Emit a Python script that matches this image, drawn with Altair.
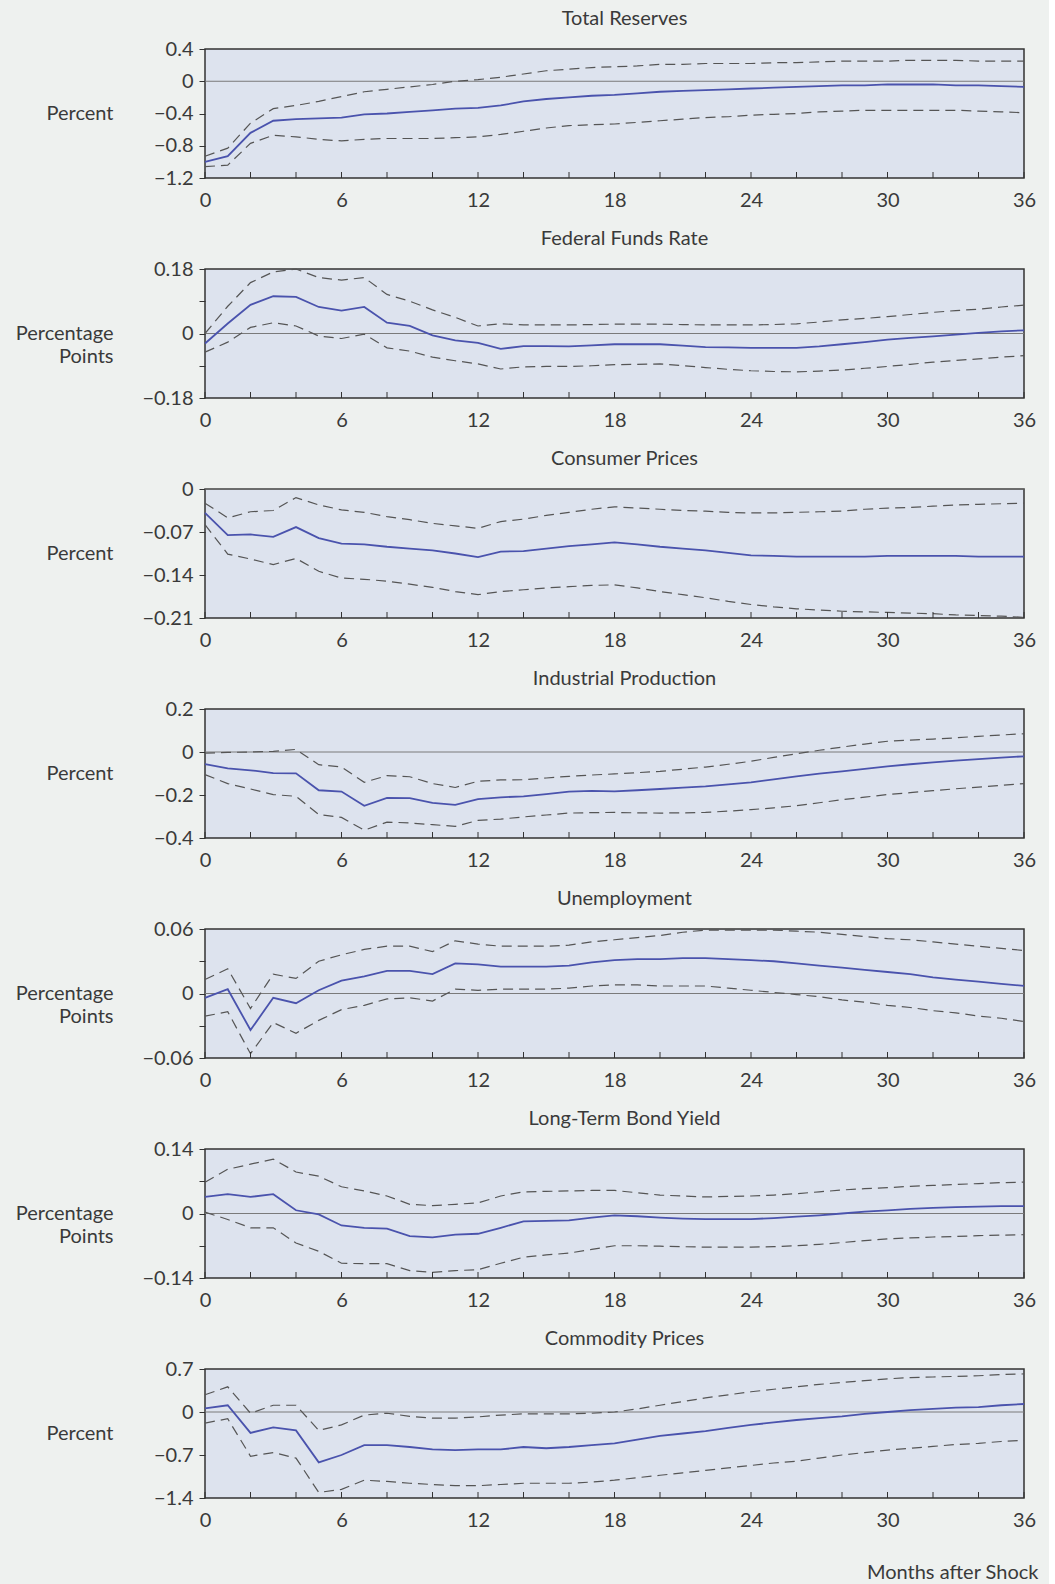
import json
import altair as alt
import pandas as pd

months = list(range(37))
tick_months = list(range(0, 37, 2))
x_labels = [0, 6, 12, 18, 24, 30, 36]

# ---------------- data ----------------
tr_mid = [-1.00, -0.93, -0.64, -0.49, -0.47, -0.46, -0.45, -0.41, -0.40, -0.38, -0.36, -0.34, -0.33,
          -0.30, -0.25, -0.22, -0.20, -0.18, -0.17, -0.15, -0.13, -0.12, -0.11, -0.10, -0.09, -0.08,
          -0.07, -0.06, -0.05, -0.05, -0.04, -0.04, -0.04, -0.05, -0.05, -0.06, -0.07]
tr_up = [-0.93, -0.83, -0.52, -0.34, -0.30, -0.25, -0.19, -0.13, -0.10, -0.07, -0.04, 0.00, 0.02,
         0.05, 0.09, 0.13, 0.15, 0.17, 0.18, 0.19, 0.21, 0.21, 0.22, 0.22, 0.22, 0.23, 0.23, 0.24,
         0.25, 0.25, 0.25, 0.26, 0.26, 0.26, 0.25, 0.25, 0.25]
tr_lo = [-1.06, -1.04, -0.77, -0.67, -0.69, -0.72, -0.74, -0.72, -0.71, -0.71, -0.71, -0.70, -0.69,
         -0.66, -0.62, -0.58, -0.55, -0.54, -0.53, -0.51, -0.49, -0.47, -0.45, -0.44, -0.42, -0.41,
         -0.40, -0.38, -0.37, -0.36, -0.36, -0.36, -0.36, -0.36, -0.37, -0.38, -0.39]

ff_mid = [-0.028, 0.028, 0.080, 0.104, 0.102, 0.074, 0.064, 0.074, 0.030, 0.021, -0.005, -0.019,
          -0.026, -0.043, -0.035, -0.035, -0.036, -0.033, -0.030, -0.030, -0.030, -0.034, -0.038,
          -0.039, -0.040, -0.040, -0.040, -0.036, -0.030, -0.024, -0.017, -0.012, -0.008, -0.003,
          0.002, 0.006, 0.009]
ff_up = [0.000, 0.076, 0.142, 0.172, 0.180, 0.156, 0.149, 0.156, 0.109, 0.090, 0.066, 0.045, 0.021,
         0.027, 0.024, 0.024, 0.024, 0.025, 0.026, 0.026, 0.026, 0.025, 0.024, 0.024, 0.024, 0.025,
         0.027, 0.032, 0.038, 0.042, 0.047, 0.053, 0.059, 0.064, 0.068, 0.074, 0.079]
ff_lo = [-0.052, -0.024, 0.017, 0.030, 0.021, -0.007, -0.014, -0.002, -0.040, -0.049, -0.066,
         -0.076, -0.085, -0.099, -0.093, -0.092, -0.092, -0.090, -0.087, -0.086, -0.085, -0.090,
         -0.095, -0.100, -0.104, -0.106, -0.107, -0.105, -0.102, -0.097, -0.092, -0.086, -0.080,
         -0.075, -0.071, -0.066, -0.062]

cp_mid = [-0.039, -0.075, -0.074, -0.078, -0.062, -0.080, -0.089, -0.090, -0.094, -0.097, -0.100,
          -0.105, -0.111, -0.102, -0.101, -0.097, -0.093, -0.090, -0.087, -0.090, -0.094, -0.097,
          -0.100, -0.104, -0.108, -0.109, -0.110, -0.110, -0.110, -0.110, -0.109, -0.109, -0.109,
          -0.109, -0.110, -0.110, -0.110]
cp_up = [-0.023, -0.047, -0.037, -0.035, -0.014, -0.026, -0.034, -0.038, -0.045, -0.050, -0.056,
         -0.060, -0.064, -0.053, -0.049, -0.043, -0.038, -0.033, -0.029, -0.031, -0.033, -0.035,
         -0.036, -0.038, -0.039, -0.039, -0.038, -0.037, -0.036, -0.033, -0.031, -0.030, -0.028,
         -0.026, -0.025, -0.024, -0.023]
cp_lo = [-0.058, -0.106, -0.114, -0.123, -0.113, -0.134, -0.145, -0.147, -0.150, -0.155, -0.160,
         -0.167, -0.172, -0.167, -0.164, -0.161, -0.159, -0.157, -0.156, -0.161, -0.167, -0.172,
         -0.177, -0.183, -0.188, -0.192, -0.195, -0.197, -0.199, -0.200, -0.201, -0.202, -0.203,
         -0.205, -0.206, -0.207, -0.209]

ip_mid = [-0.056, -0.076, -0.085, -0.098, -0.099, -0.178, -0.184, -0.250, -0.214, -0.215, -0.237,
          -0.246, -0.219, -0.211, -0.206, -0.196, -0.184, -0.181, -0.183, -0.178, -0.172, -0.166,
          -0.160, -0.151, -0.141, -0.127, -0.113, -0.101, -0.090, -0.078, -0.067, -0.057, -0.048,
          -0.040, -0.033, -0.026, -0.020]
ip_up = [-0.005, -0.002, 0.000, 0.003, 0.012, -0.059, -0.070, -0.141, -0.110, -0.115, -0.147,
         -0.165, -0.136, -0.130, -0.129, -0.121, -0.113, -0.107, -0.102, -0.096, -0.090, -0.080,
         -0.070, -0.057, -0.043, -0.025, -0.008, 0.008, 0.023, 0.037, 0.050, 0.055, 0.060, 0.066,
         0.073, 0.079, 0.085]
ip_lo = [-0.105, -0.147, -0.172, -0.198, -0.206, -0.291, -0.304, -0.364, -0.326, -0.330, -0.338,
         -0.346, -0.318, -0.312, -0.302, -0.293, -0.284, -0.282, -0.281, -0.283, -0.284, -0.283,
         -0.281, -0.275, -0.268, -0.260, -0.250, -0.236, -0.222, -0.210, -0.198, -0.189, -0.180,
         -0.171, -0.163, -0.155, -0.147]

un_mid = [-0.004, 0.004, -0.034, -0.004, -0.009, 0.003, 0.012, 0.016, 0.021, 0.021, 0.018, 0.028,
          0.027, 0.025, 0.025, 0.025, 0.026, 0.029, 0.031, 0.032, 0.032, 0.033, 0.033, 0.032,
          0.031, 0.030, 0.028, 0.026, 0.024, 0.022, 0.020, 0.018, 0.015, 0.013, 0.011, 0.009, 0.007]
un_up = [0.013, 0.023, -0.014, 0.018, 0.014, 0.030, 0.036, 0.041, 0.044, 0.044, 0.039, 0.049,
         0.046, 0.044, 0.044, 0.044, 0.045, 0.048, 0.050, 0.052, 0.054, 0.057, 0.059, 0.059,
         0.059, 0.059, 0.058, 0.057, 0.055, 0.053, 0.051, 0.050, 0.048, 0.046, 0.044, 0.042, 0.040]
un_lo = [-0.021, -0.017, -0.056, -0.027, -0.037, -0.025, -0.015, -0.011, -0.005, -0.004, -0.007,
         0.004, 0.003, 0.004, 0.004, 0.004, 0.005, 0.007, 0.008, 0.008, 0.007, 0.007, 0.007,
         0.005, 0.003, 0.001, -0.001, -0.003, -0.006, -0.008, -0.011, -0.013, -0.016, -0.018,
         -0.021, -0.023, -0.026]

lt_mid = [0.036, 0.042, 0.036, 0.042, 0.007, -0.002, -0.026, -0.031, -0.033, -0.049, -0.052, -0.046,
          -0.044, -0.031, -0.017, -0.016, -0.015, -0.009, -0.004, -0.006, -0.009, -0.011, -0.012,
          -0.012, -0.012, -0.010, -0.007, -0.004, 0.000, 0.004, 0.007, 0.010, 0.012, 0.014, 0.015,
          0.016, 0.016]
lt_up = [0.068, 0.096, 0.107, 0.118, 0.090, 0.081, 0.058, 0.049, 0.038, 0.020, 0.017, 0.020, 0.023,
         0.038, 0.047, 0.048, 0.049, 0.050, 0.050, 0.045, 0.040, 0.038, 0.036, 0.037, 0.038, 0.040,
         0.043, 0.047, 0.051, 0.054, 0.056, 0.059, 0.061, 0.063, 0.065, 0.067, 0.068]
lt_lo = [0.003, -0.013, -0.031, -0.031, -0.064, -0.082, -0.108, -0.109, -0.109, -0.124, -0.128,
         -0.124, -0.122, -0.108, -0.095, -0.090, -0.086, -0.078, -0.070, -0.070, -0.071, -0.072,
         -0.073, -0.073, -0.073, -0.072, -0.070, -0.067, -0.063, -0.059, -0.055, -0.053, -0.051,
         -0.050, -0.048, -0.047, -0.046]

cm_mid = [0.06, 0.11, -0.34, -0.25, -0.30, -0.82, -0.70, -0.54, -0.54, -0.57, -0.61, -0.62, -0.61,
          -0.61, -0.57, -0.59, -0.57, -0.54, -0.51, -0.45, -0.39, -0.35, -0.31, -0.26, -0.21, -0.17,
          -0.13, -0.10, -0.07, -0.03, 0.00, 0.03, 0.05, 0.07, 0.08, 0.11, 0.13]
cm_up = [0.28, 0.41, -0.02, 0.11, 0.11, -0.30, -0.21, -0.05, -0.02, -0.07, -0.10, -0.10, -0.08,
         -0.05, -0.03, -0.03, -0.03, -0.02, 0.00, 0.05, 0.11, 0.17, 0.23, 0.28, 0.33, 0.37, 0.41,
         0.45, 0.48, 0.51, 0.54, 0.56, 0.57, 0.58, 0.59, 0.61, 0.62]
cm_lo = [-0.18, -0.11, -0.72, -0.66, -0.75, -1.31, -1.26, -1.11, -1.13, -1.16, -1.18, -1.20, -1.20,
         -1.18, -1.16, -1.16, -1.16, -1.14, -1.11, -1.07, -1.03, -0.99, -0.95, -0.91, -0.87, -0.83,
         -0.80, -0.75, -0.70, -0.66, -0.62, -0.59, -0.56, -0.53, -0.51, -0.48, -0.46]

panels = [
    dict(title="Total Reserves", ytitle="Percent", domain=[-1.2, 0.4],
         labels=[0.4, 0, -0.4, -0.8, -1.2], ticks=[0.4, 0, -0.4, -0.8, -1.2],
         mid=tr_mid, up=tr_up, lo=tr_lo),
    dict(title="Federal Funds Rate", ytitle=["Percentage", "Points"], domain=[-0.18, 0.18],
         labels=[0.18, 0, -0.18], ticks=[0.18, 0.09, 0, -0.09, -0.18],
         mid=ff_mid, up=ff_up, lo=ff_lo),
    dict(title="Consumer Prices", ytitle="Percent", domain=[-0.21, 0],
         labels=[0, -0.07, -0.14, -0.21], ticks=[0, -0.07, -0.14, -0.21],
         mid=cp_mid, up=cp_up, lo=cp_lo),
    dict(title="Industrial Production", ytitle="Percent", domain=[-0.4, 0.2],
         labels=[0.2, 0, -0.2, -0.4], ticks=[0.2, 0, -0.2, -0.4],
         mid=ip_mid, up=ip_up, lo=ip_lo),
    dict(title="Unemployment", ytitle=["Percentage", "Points"], domain=[-0.06, 0.06],
         labels=[0.06, 0, -0.06], ticks=[0.06, 0.03, 0, -0.03, -0.06],
         mid=un_mid, up=un_up, lo=un_lo),
    dict(title="Long-Term Bond Yield", ytitle=["Percentage", "Points"], domain=[-0.14, 0.14],
         labels=[0.14, 0, -0.14], ticks=[0.14, 0.07, 0, -0.07, -0.14],
         mid=lt_mid, up=lt_up, lo=lt_lo),
    dict(title="Commodity Prices", ytitle="Percent", domain=[-1.4, 0.7],
         labels=[0.7, 0, -0.7, -1.4], ticks=[0.7, 0, -0.7, -1.4],
         mid=cm_mid, up=cm_up, lo=cm_lo),
]

# ---------------- styling ----------------
FONT = "Lato"
TXT = "#3a3a3a"
W, H = 819, 129
BLUE = "#4a53ad"
DASH = "#555555"


def make_panel(p, last=False):
    df = pd.DataFrame({
        "month": months * 3,
        "value": p["mid"] + p["up"] + p["lo"],
        "series": ["mid"] * 37 + ["upper"] * 37 + ["lower"] * 37,
    })
    yscale = alt.Scale(domain=p["domain"], nice=False, zero=False)
    xscale = alt.Scale(domain=[0, 36], nice=False, zero=False)
    lab = json.dumps(p["labels"])
    yaxis = alt.Axis(
        values=p["ticks"],
        labelExpr=f"indexof({lab}, datum.value) >= 0 ? format(datum.value, '.2~f') : ''",
        title=p["ytitle"], titleAngle=0, titleAlign="right", titleBaseline="middle",
        titleX=-92, titleY=H / 2, titleLineHeight=23,
        titleFontSize=20, titleFontWeight="normal", titleColor=TXT, titleFont=FONT,
        labelFontSize=20, labelFont=FONT, labelColor=TXT, labelPadding=6,
        tickSize=6, tickColor="#333333", tickWidth=1, domain=False, grid=False,
    )
    xkw = dict(values=x_labels, ticks=False, domain=False, grid=False,
               labelFontSize=20, labelFont=FONT, labelColor=TXT, labelPadding=12,
               labelFlush=False)
    if last:
        xaxis = alt.Axis(title="Months after Shock", titleFontSize=20, titleFont=FONT,
                         titleFontWeight="normal", titleColor=TXT, titleAlign="right",
                         titleBaseline="middle", titleX=W + 14, titleY=74, **xkw)
    else:
        xaxis = alt.Axis(title=None, **xkw)

    X = alt.X("month:Q", scale=xscale, axis=xaxis)
    Y = alt.Y("value:Q", scale=yscale, axis=yaxis)

    zero = alt.Chart(pd.DataFrame({"value": [0]})).mark_rule(
        color="#7a7a7a", strokeWidth=1).encode(y=Y)
    bands = alt.Chart(df).transform_filter("datum.series != 'mid'").mark_line(
        color=DASH, strokeWidth=1.2, strokeDash=[10, 6]).encode(x=X, y=Y, detail="series:N")
    mid = alt.Chart(df).transform_filter("datum.series == 'mid'").mark_line(
        color=BLUE, strokeWidth=1.8).encode(x=X, y=Y)
    ticks = alt.Chart(pd.DataFrame({"month": tick_months})).mark_rule(
        color="#333333", strokeWidth=1).encode(x=X, y=alt.value(H), y2=alt.value(H - 6))

    return alt.layer(zero, bands, mid, ticks).properties(
        width=W, height=H,
        title=alt.TitleParams(p["title"], fontSize=20, font=FONT, fontWeight="normal",
                              color=TXT, anchor="middle", baseline="alphabetic", offset=22,
                              frame="group", dx=10, dy=28),
    )


charts = [make_panel(p, last=(i == len(panels) - 1)) for i, p in enumerate(panels)]

chart = alt.vconcat(*charts, spacing=91, bounds="flush").properties(
    padding={"left": 14, "top": 8, "right": 10, "bottom": 2},
    background="#eef1ef",
).configure_view(
    fill="#dde3ee", stroke="#333333", strokeWidth=1.5,
)

chart.save("out.html", embed_options={"renderer": "svg", "actions": False})
